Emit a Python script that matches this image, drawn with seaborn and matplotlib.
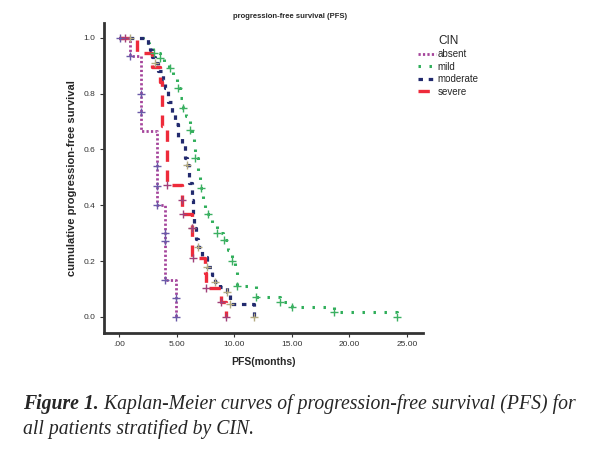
import matplotlib
matplotlib.use('Agg')
import numpy as np
import pandas as pd
import matplotlib.pyplot as plt
import seaborn as sns
from matplotlib.lines import Line2D

# step-curve data (time in months, survival after the step)
absent_t = [0, 0.95, 1.9, 3.3, 4.0, 4.95]
absent_s = [1.0, 0.933, 0.667, 0.40, 0.133, 0.0]

mild_t = [0, 2.1, 2.6, 2.95, 3.55, 3.9, 4.35, 4.7, 5.05, 5.3, 5.55, 5.8, 6.0, 6.15,
          6.35, 6.5, 6.6, 6.85, 7.05, 7.3, 7.5, 7.7, 8.05, 8.5, 9.0, 9.45, 9.8,
          10.05, 10.25, 11.9, 14.0, 15.0, 18.7, 24.1]
mild_s = [1.0, 0.982, 0.964, 0.946, 0.928, 0.91, 0.89, 0.86, 0.82, 0.785, 0.75, 0.72,
          0.70, 0.67, 0.64, 0.60, 0.57, 0.52, 0.46, 0.42, 0.39, 0.37, 0.33, 0.30,
          0.275, 0.24, 0.20, 0.16, 0.11, 0.072, 0.054, 0.036, 0.018, 0.0]

moderate_t = [0, 2.5, 2.7, 2.86, 3.12, 3.38, 3.82, 4.0, 4.25, 4.6, 4.86, 5.12, 5.46,
              5.72, 5.9, 6.07, 6.33, 6.42, 6.5, 6.68, 6.85, 7.2, 7.63, 8.07, 8.33,
              8.76, 9.37, 9.63, 11.7]
moderate_s = [1.0, 0.97, 0.955, 0.93, 0.91, 0.88, 0.85, 0.82, 0.77, 0.73, 0.69, 0.64,
              0.615, 0.57, 0.545, 0.478, 0.418, 0.37, 0.318, 0.28, 0.25, 0.215, 0.18,
              0.15, 0.125, 0.107, 0.09, 0.045, 0.0]

severe_t = [0, 1.56, 2.86, 3.56, 3.73, 4.14, 5.44, 6.3, 7.45, 7.6, 8.9, 9.28]
severe_s = [1.0, 0.947, 0.895, 0.842, 0.684, 0.474, 0.368, 0.21, 0.158, 0.105, 0.053, 0.0]

# censor marks (+)
absent_ct = [0.1, 0.95, 1.9, 1.9, 3.3, 3.3, 3.3, 4.0, 4.0, 4.0, 4.95, 4.95]
absent_cs = [1.0, 0.933, 0.80, 0.733, 0.54, 0.47, 0.40, 0.30, 0.27, 0.133, 0.067, 0.0]
mild_ct = [3.0, 3.6, 4.4, 5.1, 5.6, 6.2, 6.6, 7.1, 7.7, 8.5, 9.1, 9.8, 10.25, 11.9, 14.0, 15.0, 18.7, 24.1]
mild_cs = [0.946, 0.928, 0.89, 0.82, 0.75, 0.67, 0.57, 0.46, 0.37, 0.30, 0.275, 0.20, 0.11, 0.072, 0.054, 0.036, 0.018, 0.0]
moderate_ct = [1.0, 3.12, 5.9, 6.33, 6.85, 7.63, 8.33, 9.37, 9.63, 11.7]
moderate_cs = [1.0, 0.91, 0.545, 0.318, 0.25, 0.18, 0.125, 0.09, 0.045, 0.0]
severe_ct = [0.5, 4.14, 5.44, 5.55, 6.3, 6.45, 7.6, 8.9, 9.28]
severe_cs = [1.0, 0.474, 0.418, 0.37, 0.317, 0.21, 0.105, 0.054, 0.0]

groups = ['absent', 'mild', 'moderate', 'severe']
x_ticks = [0, 5, 10, 15, 20, 25]
x_tick_labels = ['.00', '5.00', '10.00', '15.00', '20.00', '25.00']
y_ticks = [0.0, 0.2, 0.4, 0.6, 0.8, 1.0]

sns.set_style('white')
plt.rcParams['font.family'] = ['Liberation Sans', 'DejaVu Sans']

curves = {
    'absent': (absent_t, absent_s, absent_ct, absent_cs),
    'mild': (mild_t, mild_s, mild_ct, mild_cs),
    'moderate': (moderate_t, moderate_s, moderate_ct, moderate_cs),
    'severe': (severe_t, severe_s, severe_ct, severe_cs),
}
colors = {'absent': '#a5449b', 'mild': '#2fae5a', 'moderate': '#222a6e', 'severe': '#ee2b3b'}
mark_colors = {'absent': '#6a5aa8', 'mild': '#3cb062', 'moderate': '#b3aa80', 'severe': '#a0407a'}
styles = {
    'absent': dict(lw=2.0, ls=(0, (0.8, 0.8))),
    'mild': dict(lw=2.2, ls=(0, (0.8, 2.8))),
    'moderate': dict(lw=2.3, ls=(0, (1.4, 1.8))),
    'severe': dict(lw=2.4, ls=(0, (3.4, 2.6))),
}

fig = plt.figure(figsize=(5.93, 4.54), dpi=100)
ax = fig.add_axes([104 / 593, 1 - 333 / 454, 319 / 593, 310 / 454])

for g in ['mild', 'moderate', 'severe', 'absent']:
    t, s, ct, cs = curves[g]
    df = pd.DataFrame({'t': t, 's': s})
    sns.lineplot(data=df, x='t', y='s', ax=ax, estimator=None, sort=False,
                 drawstyle='steps-post', color=colors[g],
                 linewidth=styles[g]['lw'], linestyle=styles[g]['ls'])
    cdf = pd.DataFrame({'t': ct, 's': cs})
    sns.scatterplot(data=cdf, x='t', y='s', ax=ax, marker='+', s=28,
                    color=mark_colors[g], linewidth=1.0, zorder=5)

ax.set_xlim(-1.3, 26.4)
ax.set_ylim(-0.058, 1.053)
ax.set_xticks(x_ticks)
ax.set_xticklabels(x_tick_labels)
ax.set_yticks(y_ticks)
ax.set_yticklabels([f'{v:.1f}' for v in y_ticks])
ax.tick_params(axis='both', labelsize=6, labelcolor='#333333', length=3, width=0.8,
               color='#333333', direction='out', bottom=True, left=True, pad=3)
for side in ['top', 'right']:
    ax.spines[side].set_visible(False)
for side in ['left', 'bottom']:
    ax.spines[side].set_linewidth(2.0)
    ax.spines[side].set_color('#333333')

ax.set_xlabel('PFS(months)', fontsize=7.5, fontweight='bold', labelpad=6)
ax.set_ylabel('cumulative progression-free survival', fontsize=8, fontweight='bold', labelpad=5)

fig.text(290 / 593, 1 - 17 / 454, 'progression-free survival (PFS)', fontsize=5.5,
         fontweight='bold', ha='center', va='center')

handles = [Line2D([0], [0], color=colors[g], lw=styles[g]['lw'], ls=styles[g]['ls'])
           for g in groups]
leg = fig.legend(handles, groups, title='CIN', loc='upper left',
                 bbox_to_anchor=(413 / 593, 1 - 30 / 454), frameon=False,
                 fontsize=7, title_fontsize=8.5, handlelength=1.9, handletextpad=0.1,
                 labelspacing=0.25, borderpad=0)

# caption
cap_kw = dict(family=['Liberation Serif', 'DejaVu Serif'], fontstyle='italic',
              fontsize=14.2, va='center', ha='left')
t1 = fig.text(23 / 593, 1 - 404 / 454, 'Figure 1.', fontweight='bold', **cap_kw)
fig.canvas.draw()
bb = t1.get_window_extent(renderer=fig.canvas.get_renderer())
x_next = bb.x1 / fig.bbox.width
fig.text(x_next, 1 - 404 / 454, ' Kaplan-Meier curves of progression-free survival (PFS) for', **cap_kw)
fig.text(23 / 593, 1 - 429 / 454, 'all patients stratified by CIN.', **cap_kw)

fig.savefig('out.png', dpi=100)
